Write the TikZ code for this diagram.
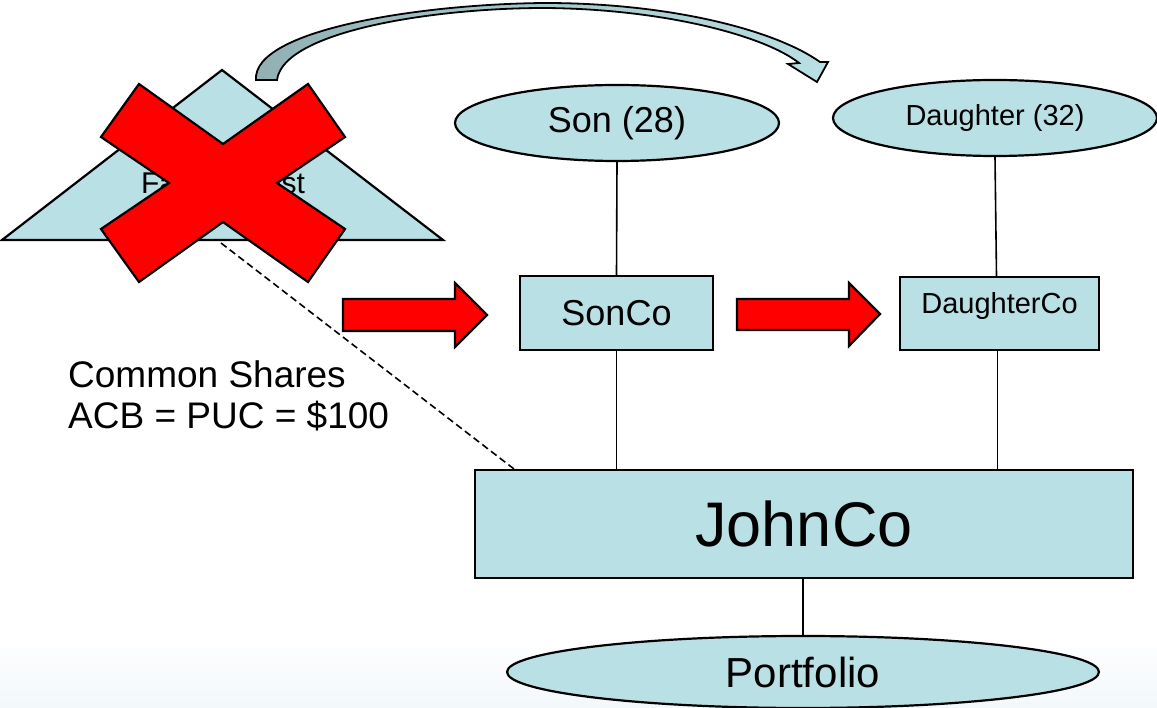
\documentclass[tikz,border=0pt]{standalone}
\usepackage{fontspec}
\setmainfont{Liberation Sans}
\usetikzlibrary{shapes.geometric}
\definecolor{boxfill}{RGB}{185,224,228}
\definecolor{arcdark}{RGB}{146,176,180}
\definecolor{bandtop}{RGB}{252,253,254}
\definecolor{bandbot}{RGB}{243,248,250}
\newcommand\fsz[1]{\fontsize{#1}{#1}\selectfont}
\begin{document}
\begin{tikzpicture}[x=1pt,y=-1pt,
  entity/.style={draw=black, line width=2.2pt, fill=boxfill, inner sep=0pt},
  oval/.style={entity, ellipse},
  firm/.style={entity, rectangle},
  link/.style={line width=1.6pt},
  blockarrow/.style={draw=black, line width=2.2pt, fill=red, line join=miter},
  cross/.style={draw=black, line width=2.2pt, fill=red, line join=miter},
  plain/.style={inner sep=0pt}]

% page and the faint band along the bottom edge
\useasboundingbox (0,0) rectangle (1157,708);
\fill[white] (0,0) rectangle (1157,708);
\shade[top color=bandtop, bottom color=bandbot] (0,648) rectangle (1157,708);

% curved transfer arrow over the top
\filldraw[draw=black, line width=1.8pt, line join=miter, left color=arcdark, right color=boxfill]
  (256,80) .. controls (252,30) and (420,4) .. (545,3)
  .. controls (670,3) and (775,30) .. (820,62)
  -- (828,62) -- (817,82) -- (788,64) -- (799,63)
  .. controls (765,36) and (665,9) .. (545,8)
  .. controls (430,8) and (283,32) .. (277,80) -- cycle;

% trust triangle
\coordinate (apex) at (222,70);
\coordinate (baseL) at (2,240);
\coordinate (baseR) at (443,240);
\filldraw[draw=black, line width=2.2pt, fill=boxfill, line join=miter] (baseL) -- (apex) -- (baseR) -- cycle;
\node[plain, font=\fsz{30}] (trust) at (223,186) {Family Trust};
\coordinate (trustfoot) at (221,243);

% block arrows between the companies
\filldraw[blockarrow] (343,299) -- (455,299) -- (455,283) -- (487,315) -- (455,347) -- (455,331) -- (343,331) -- cycle;
\filldraw[blockarrow] (737,299) -- (849,299) -- (849,283) -- (880,314) -- (849,346) -- (849,330) -- (737,330) -- cycle;

% family members
\node[oval, minimum width=324pt, minimum height=76pt, font=\fsz{36}] (son) at (617,123) {Son (28)};
\node[oval, minimum width=324pt, minimum height=76pt, font=\fsz{29}] (dau) at (995,118) {Daughter (32)};

% holding companies
\node[firm, minimum width=193pt, minimum height=74pt, font=\fsz{36}] (sonco) at (616.5,313) {SonCo};
\node[firm, minimum width=199pt, minimum height=73pt,
      label={[plain, font=\fsz{29}, yshift=7pt]center:DaughterCo}] (dauco) at (999.5,313.5) {};
\node[firm, minimum width=658pt, minimum height=108pt, font=\fsz{63}] (john) at (804,524) {JohnCo};
\node[oval, minimum width=592pt, minimum height=72pt, font=\fsz{42}] (port) at (803,672) {Portfolio};

% ownership lines
\draw[link] (son.south) -- (sonco.north);
\draw[link] (sonco.south) -- (sonco.south |- john.north);
\draw[link] (dau.south) -- ([xshift=-3pt]dauco.north);
\draw[link] ([xshift=-2pt]dauco.south) -- ([xshift=-2pt]dauco.south |- john.north);
\draw[link] (john.south -| port.north) -- (port.north);
\draw[link, dash pattern=on 7pt off 4pt] (trustfoot) -- ([xshift=40pt]john.north west);

% share description
\node[plain, anchor=north west, align=left, font=\fontsize{37}{41}\selectfont] (shares) at (68,360)
  {Common Shares\\ACB = PUC = \$100};

% the trust is struck out
\filldraw[cross] (139,84) -- (223,144) -- (308,84) -- (345,137) -- (277,183) -- (345,229)
  -- (308,282) -- (223,222) -- (139,282) -- (101,229) -- (169,183) -- (101,137) -- cycle;
\end{tikzpicture}
\end{document}
